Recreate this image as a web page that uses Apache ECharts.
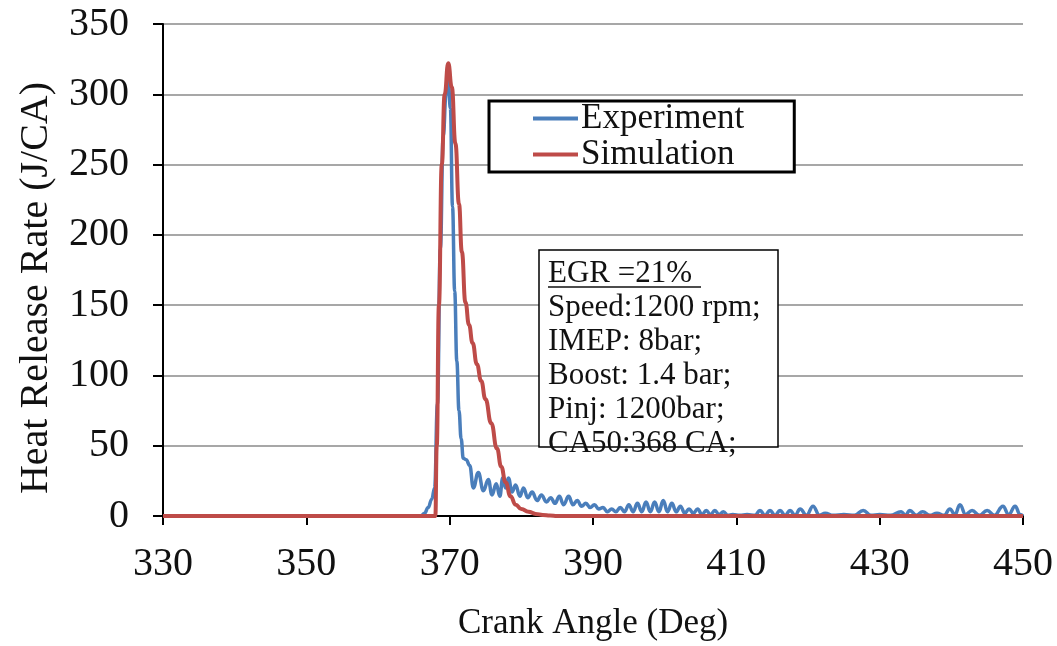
<!DOCTYPE html>
<html>
<head>
<meta charset="utf-8">
<title>Heat Release Rate</title>
<script src="https://cdn.jsdelivr.net/npm/echarts@6/dist/echarts.min.js"></script>
<style>
  html, body { margin: 0; padding: 0; background: #fff; }
  #chart { width: 1057px; height: 646px; }
</style>
</head>
<body>
<div id="chart"></div>
<script>
// Crank-angle axis and heat release rate axis
const xRange = [330, 450];
const xStep = 20;
const yRange = [0, 350];
const yStep = 50;

// Measured heat release rate (J/CA) against crank angle (deg)
const expAngle = [
  330, 366, 366.5, 367, 367.5, 367.9, 368.3, 368.7, 369.1, 369.5, 369.8, 370.1, 370.4, 370.7,
  371.0, 371.3, 371.6, 371.9, 372.3, 372.8, 373.3, 374.0, 374.7, 375.4, 375.9, 376.5, 377.0,
  377.4, 377.8, 378.2, 378.7, 379.2, 379.8, 380.3, 380.9, 381.5, 382.2, 382.8, 383.5, 384.1,
  384.7, 385.3, 385.9, 386.6, 387.2, 387.8, 388.4, 389.0, 389.6, 390.2, 390.8, 391.4, 392.0,
  392.6, 393.2, 393.8, 394.4, 395.0, 395.6, 396.2, 396.8, 397.4, 398.0, 398.6, 399.2, 399.8,
  400.4, 401.0, 401.6, 402.2, 402.8, 403.4, 404.0, 404.6, 405.2, 405.8, 406.4, 407.0, 407.6,
  408.2, 408.8, 409.5, 410.5, 411.5, 412.6, 413.3, 414.0, 414.7, 415.4, 416.1, 416.8, 417.5,
  418.2, 418.9, 419.8, 420.7, 421.6, 422.4, 423.5, 425.0, 426.5, 427.7, 428.8, 430.0, 431.5,
  433.0, 433.6, 434.2, 435.1, 436.0, 437.0, 438.0, 439.0, 439.8, 440.5, 441.2, 442.0, 442.9,
  443.9, 445.0, 446.0, 447.2, 448.0, 448.9, 449.6, 450
];
const expHrr = [
  0, 0, 2, 6, 12, 20, 80, 190, 270, 300, 310, 290, 220, 160,
  110, 75, 55, 41, 40, 36, 20, 31, 18, 26, 15, 23, 14,
  27, 20, 27, 17, 22, 14, 20, 13, 17, 11, 15, 10, 13,
  9, 14, 8, 14, 8, 11, 7, 9, 6, 8, 5, 6, 3,
  5, 3, 6, 3, 8, 3, 9, 3, 10, 3, 10, 3, 11,
  3, 9, 3, 7, 2, 5, 2, 5, 1, 4, 1, 4, 1,
  3, 0.5, 1, 0.5, 1, 0.5, 4, 0.5, 4, 0.5, 4, 0.5, 4,
  0.5, 5, 0.5, 7, 0.5, 2, 0.5, 1, 0.5, 4, 0.5, 1, 0.5,
  3, 0.5, 4, 0.5, 3, 0.5, 2, 0.5, 5, 1, 8, 1, 4,
  0.5, 4, 0.5, 7, 1, 7, 1, 0
];

// Simulated heat release rate (J/CA) against crank angle (deg)
const simAngle = [
  330, 368.0, 368.2, 368.5, 368.9, 369.3, 369.8, 370.3, 370.8, 371.3, 371.7, 372.2, 372.7,
  373.2, 373.8, 374.4, 375.0, 375.8, 376.6, 377.2, 377.8, 378.5, 379.2, 380.0, 381.0, 382.0,
  383.0, 384.0, 385.0, 450
];
const simHrr = [
  0, 0, 50, 150, 250, 300, 322, 305, 265, 222, 188, 152, 136,
  123, 108, 96, 83, 66, 48, 35, 24, 14, 8, 5, 3, 1.5,
  0.8, 0.3, 0, 0
];

const seriesNames = ['Experiment', 'Simulation'];
const seriesColors = ['#4a7ebb', '#be4b48'];

const infoTitle = 'EGR =21%';
const infoLines = ['Speed:1200 rpm;', 'IMEP: 8bar;', 'Boost: 1.4 bar;', 'Pinj: 1200bar;', 'CA50:368 CA;'];

const pairs = (xs, ys) => xs.map((x, i) => [x, ys[i]]);

const serif = '"Liberation Serif", "Times New Roman", serif';
const chart = echarts.init(document.getElementById('chart'), null, { renderer: 'canvas' });

// Info box: white panel with the operating conditions
const infoBox = { left: 539, top: 250, width: 239, height: 197 };
const rowTop = 274;
const rowStep = 34;
const infoFont = '31px ' + serif;
const infoGraphics = [
  {
    type: 'rect',
    shape: { x: infoBox.left, y: infoBox.top, width: infoBox.width, height: infoBox.height },
    style: { fill: '#fff', stroke: '#000', lineWidth: 1.5 },
    z: 10
  },
  {
    type: 'text',
    x: 548, y: rowTop,
    style: { text: infoTitle, font: infoFont, fill: '#111', textVerticalAlign: 'middle' },
    z: 11
  },
  {
    type: 'line',
    shape: { x1: 548, y1: 287, x2: 701, y2: 287 },
    style: { stroke: '#111', lineWidth: 1.5 },
    z: 11
  },
  // vertical axis title
  {
    type: 'text',
    x: 36, y: 288,
    rotation: Math.PI / 2,
    style: {
      text: 'Heat Release Rate (J/CA)', font: '40px ' + serif, fill: '#111',
      textAlign: 'center', textVerticalAlign: 'middle'
    },
    z: 5
  }
].concat(infoLines.map((t, i) => ({
  type: 'text',
  x: 548, y: rowTop + rowStep * (i + 1),
  style: { text: t, font: infoFont, fill: '#111', textVerticalAlign: 'middle' },
  z: 11
})));

chart.setOption({
  animation: false,
  backgroundColor: '#fff',
  grid: { left: 163, right: 34, top: 24, bottom: 128 },
  legend: {
    data: seriesNames,
    orient: 'vertical',
    left: 489,
    top: 101,
    backgroundColor: '#fff',
    borderColor: '#000',
    borderWidth: 3,
    borderRadius: 0,
    padding: [0, 50, 0, 44],
    itemGap: 1,
    itemWidth: 45,
    itemHeight: 4,
    icon: 'rect',
    textStyle: { fontFamily: serif, fontSize: 35, color: '#111', lineHeight: 31, padding: [0, 0, 0, -2] },
    z: 10
  },
  xAxis: {
    type: 'value',
    min: xRange[0],
    max: xRange[1],
    interval: xStep,
    name: 'Crank Angle (Deg)',
    nameLocation: 'middle',
    nameGap: 90,
    nameTextStyle: { fontFamily: serif, fontSize: 35, color: '#111' },
    axisLine: { lineStyle: { color: '#000', width: 2 } },
    axisTick: { show: true, inside: false, length: 9, lineStyle: { color: '#000', width: 2 } },
    axisLabel: { fontFamily: serif, fontSize: 40, color: '#111', margin: 28 },
    splitLine: { show: false }
  },
  yAxis: {
    type: 'value',
    min: yRange[0],
    max: yRange[1],
    interval: yStep,
    axisLine: { show: true, lineStyle: { color: '#000', width: 2 } },
    axisTick: { show: true, inside: false, length: 10, lineStyle: { color: '#000', width: 2 } },
    axisLabel: { fontFamily: serif, fontSize: 40, color: '#111', margin: 34 },
    splitLine: { show: true, lineStyle: { color: '#8a8a8a', width: 1.5 } }
  },
  series: [
    {
      name: seriesNames[0],
      type: 'line',
      data: pairs(expAngle, expHrr),
      showSymbol: false,
      symbol: 'none',
      smooth: 0.45,
      smoothMonotone: 'x',
      color: seriesColors[0],
      lineStyle: { color: seriesColors[0], width: 3.5 },
      z: 2
    },
    {
      name: seriesNames[1],
      type: 'line',
      data: pairs(simAngle, simHrr),
      showSymbol: false,
      symbol: 'none',
      smooth: 0.5,
      smoothMonotone: 'x',
      color: seriesColors[1],
      lineStyle: { color: seriesColors[1], width: 4 },
      z: 3
    }
  ],
  graphic: infoGraphics
});
</script>
</body>
</html>
